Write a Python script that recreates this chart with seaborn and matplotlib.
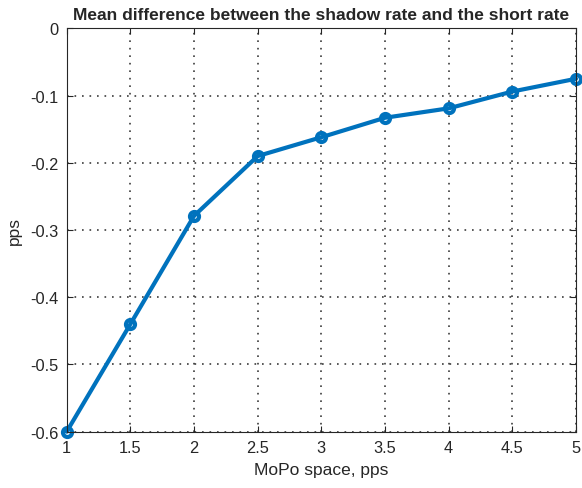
import pandas as pd
import seaborn as sns
import matplotlib.pyplot as plt

# values
mopo_space = [1.0, 1.5, 2.0, 2.5, 3.0, 3.5, 4.0, 4.5, 5.0]
mean_diff = [-0.600, -0.440, -0.279, -0.190, -0.162, -0.133, -0.119, -0.094, -0.075]
x_ticks = [1, 1.5, 2, 2.5, 3, 3.5, 4, 4.5, 5]
x_tick_labels = ["1", "1.5", "2", "2.5", "3", "3.5", "4", "4.5", "5"]
y_ticks = [-0.6, -0.5, -0.4, -0.3, -0.2, -0.1, 0]
y_tick_labels = ["-0.6", "-0.5", "-0.4", "-0.3", "-0.2", "-0.1", "0"]

df = pd.DataFrame({"space": mopo_space, "diff": mean_diff})

sns.set_style("white")
plt.rcParams["font.family"] = ["Liberation Sans", "DejaVu Sans"]

fig = plt.figure(figsize=(5.82, 4.89), dpi=100)
ax = fig.add_axes([0.1146, 0.1152, 0.8751, 0.8248])

sns.lineplot(data=df, x="space", y="diff", ax=ax, color="#0072BD", linewidth=3.0,
             marker="o", markersize=6.5, markerfacecolor="none",
             markeredgecolor="#0072BD", markeredgewidth=3.0, clip_on=False)

ax.set_xlim(1, 5)
ax.set_ylim(-0.6, 0)
ax.set_xticks(x_ticks)
ax.set_xticklabels(x_tick_labels)
ax.set_yticks(y_ticks)
ax.set_yticklabels(y_tick_labels)

ax.grid(True, color="#262626", linestyle=(0, (1, 3.5)), linewidth=1.2, alpha=0.9)
ax.set_axisbelow(True)
for s in ax.spines.values():
    s.set_color("#262626")
    s.set_linewidth(0.8)

ax.tick_params(direction="in", length=4, width=0.8, colors="#262626",
               labelsize=11.8, pad=6, top=True, right=True, bottom=True, left=True)

ax.set_title("Mean difference between the shadow rate and the short rate",
             fontsize=12.5, fontweight="bold", pad=7)
ax.set_xlabel("MoPo space, pps", fontsize=12.5, color="#262626", labelpad=5)
ax.set_ylabel("pps", fontsize=12.5, color="#262626", labelpad=6)

fig.savefig("out.png", dpi=100)
